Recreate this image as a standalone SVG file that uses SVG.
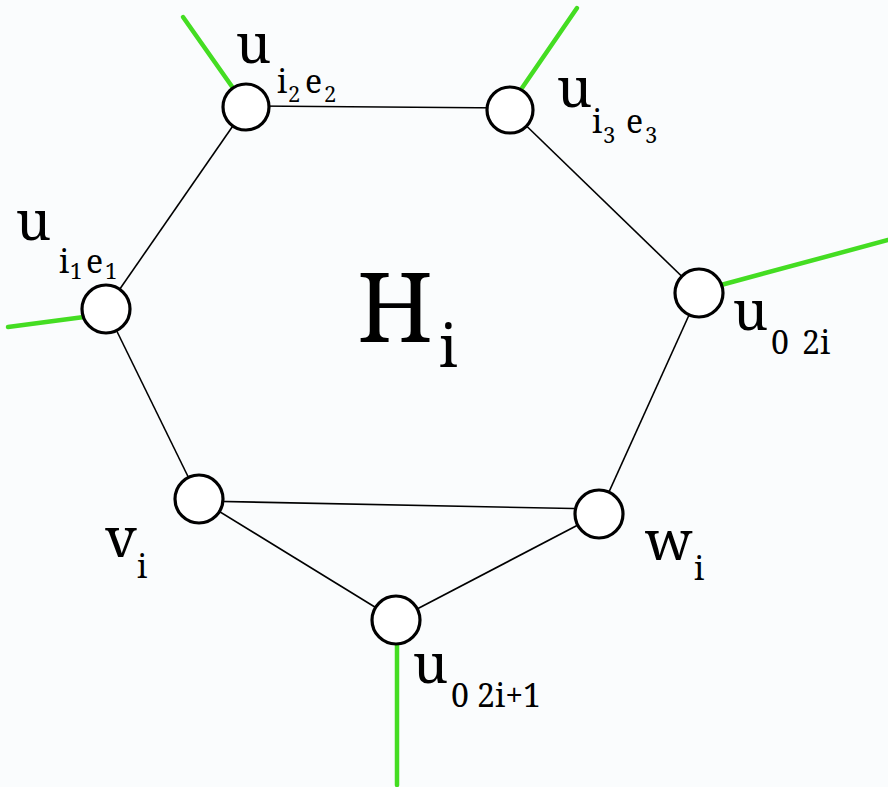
<svg xmlns="http://www.w3.org/2000/svg" width="888" height="787" viewBox="0 0 888 787">
<style>
.e{stroke:#000;stroke-width:1.6;fill:none}
.g{stroke:#44dd22;stroke-width:4.5;fill:none;stroke-linecap:round}
.n{fill:#fff;stroke:#000;stroke-width:3.2}
.t text{fill:#000}
.b{font-size:55px}
.s{font-size:32px}
.ss{font-size:22px}
</style>
<rect width="888" height="787" fill="#fafcfd"/>
<g id="connectors">
<line class="e" x1="246" y1="106" x2="510" y2="108"/>
<line class="e" x1="510" y1="110" x2="699" y2="293"/>
<line class="e" x1="699" y1="293" x2="599" y2="514"/>
<line class="e" x1="599" y1="514" x2="396" y2="620"/>
<line class="e" x1="396" y1="620" x2="199" y2="499"/>
<line class="e" x1="199" y1="501" x2="599" y2="509"/>
<line class="e" x1="199" y1="499" x2="106" y2="309"/>
<line class="e" x1="106" y1="309" x2="246" y2="107"/>
<line class="g" x1="183" y1="17" x2="233" y2="88"/>
<line class="g" x1="577" y1="8" x2="522" y2="88"/>
<line class="g" x1="8" y1="327" x2="84" y2="317"/>
<line class="g" x1="888" y1="240" x2="721" y2="285"/>
<line class="g" x1="397" y1="645" x2="397" y2="785"/>
</g>
<g class="t" font-family="'Noto Serif', 'Liberation Serif', 'DejaVu Serif', serif">
<g id="u_i2e2"><circle class="n" cx="246" cy="107" r="23"/>
<text class="b" x="236" y="63">u</text><text class="s" x="277" y="93">i</text><text class="ss" x="288" y="102">2</text><text class="s" x="305" y="93">e</text><text class="ss" x="324" y="102">2</text></g>
<g id="u_i3e3"><circle class="n" cx="510" cy="110" r="23"/>
<text class="b" x="557" y="107">u</text><text class="s" x="592" y="133">i</text><text class="ss" x="603" y="143">3</text><text class="s" x="626" y="133">e</text><text class="ss" x="645" y="143">3</text></g>
<g id="u_i1e1"><circle class="n" cx="106" cy="309" r="24"/>
<text class="b" x="16" y="240">u</text><text class="s" x="59" y="273">i</text><text class="ss" x="70" y="279">1</text><text class="s" x="86" y="273">e</text><text class="ss" x="105" y="279">1</text></g>
<g id="u_02i"><circle class="n" cx="699" cy="293" r="24"/>
<text class="b" x="733" y="330">u</text><text class="s" x="771" y="354">0</text><text class="s" x="802" y="354">2i</text></g>
<g id="v_i"><circle class="n" cx="199" cy="499" r="24"/>
<text class="b" x="105" y="557">v</text><text class="s" x="137" y="578">i</text></g>
<g id="w_i"><circle class="n" cx="599" cy="514" r="24"/>
<text class="b" x="645" y="560">w</text><text class="s" x="694" y="580">i</text></g>
<g id="u_02i1"><circle class="n" cx="396" cy="620" r="24"/>
<text class="b" x="413" y="683">u</text><text class="s" x="451" y="707">0</text><text class="s" x="477" y="707" font-size="35">2i+1</text></g>
<g id="H_i"><text x="357" y="342" font-size="96">H</text><text x="439" y="367" font-size="58">i</text></g>
</g>
</svg>
